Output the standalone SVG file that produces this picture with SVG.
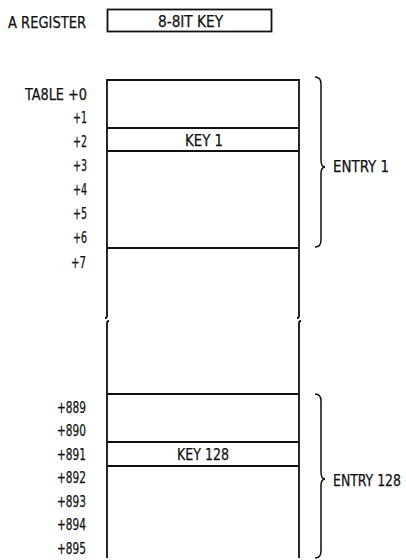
<svg xmlns="http://www.w3.org/2000/svg" width="406" height="560" viewBox="0 0 406 560">
<style>
text{font-family:"DejaVu Sans Condensed","DejaVu Sans",sans-serif;font-size:15px;fill:#111;stroke:#111;stroke-width:0.25}
.ln{stroke:#111;stroke-width:1.8;fill:none}
.br{stroke:#111;stroke-width:1.5;fill:none}
</style>
<rect width="406" height="560" fill="#fff"/>
<g id="register">
<text x="8" y="28" textLength="78" lengthAdjust="spacingAndGlyphs">A REGISTER</text>
<rect x="107.5" y="9.5" width="164" height="22" class="ln"/>
<text x="158" y="27" textLength="65" lengthAdjust="spacingAndGlyphs">8-8IT KEY</text>
</g>
<g id="labels-top">
<text x="25" y="100" textLength="62" lengthAdjust="spacingAndGlyphs">TA8LE +0</text>
<text x="73" y="123" textLength="14" lengthAdjust="spacingAndGlyphs">+1</text>
<text x="73" y="147" textLength="14" lengthAdjust="spacingAndGlyphs">+2</text>
<text x="73" y="171" textLength="14" lengthAdjust="spacingAndGlyphs">+3</text>
<text x="73" y="195" textLength="14" lengthAdjust="spacingAndGlyphs">+4</text>
<text x="73" y="219" textLength="14" lengthAdjust="spacingAndGlyphs">+5</text>
<text x="73" y="243" textLength="14" lengthAdjust="spacingAndGlyphs">+6</text>
<text x="71" y="268" textLength="15" lengthAdjust="spacingAndGlyphs">+7</text>
</g>
<g id="labels-bottom">
<text x="57" y="413" textLength="29" lengthAdjust="spacingAndGlyphs">+889</text>
<text x="57" y="436" textLength="29" lengthAdjust="spacingAndGlyphs">+890</text>
<text x="57" y="460" textLength="29" lengthAdjust="spacingAndGlyphs">+891</text>
<text x="57" y="483" textLength="29" lengthAdjust="spacingAndGlyphs">+892</text>
<text x="57" y="507" textLength="29" lengthAdjust="spacingAndGlyphs">+893</text>
<text x="57" y="530" textLength="29" lengthAdjust="spacingAndGlyphs">+894</text>
<text x="57" y="554" textLength="29" lengthAdjust="spacingAndGlyphs">+895</text>
</g>
<g id="table">
<path class="ln" d="M107 80 H299 M107 128 H299 M107 151 H299 M107 248 H299 M107 394 H299 M107 442 H299 M107 466 H299"/>
<path class="ln" d="M107 79 V316 Q107 318 105 318 M299 79 V316 Q299 318 297 318"/>
<path class="ln" d="M107 558 V323 Q107 321 109 321 M299 558 V323 Q299 321 301 321"/>
<text x="185" y="146" textLength="38" lengthAdjust="spacingAndGlyphs">KEY 1</text>
<text x="177" y="460" textLength="52" lengthAdjust="spacingAndGlyphs">KEY 128</text>
</g>
<g id="entry1">
<path class="br" d="M315 77 Q321 77 321 84 V160 Q321 167 325 167 Q321 167 321 174 V240 Q321 247 315 247"/>
<text x="333" y="172" textLength="56" lengthAdjust="spacingAndGlyphs">ENTRY 1</text>
</g>
<g id="entry128">
<path class="br" d="M315 394 Q321 394 321 401 V472 Q321 479 325 479 Q321 479 321 486 V551 Q321 558 315 558"/>
<text x="333" y="486" textLength="68" lengthAdjust="spacingAndGlyphs">ENTRY 128</text>
</g>
</svg>
